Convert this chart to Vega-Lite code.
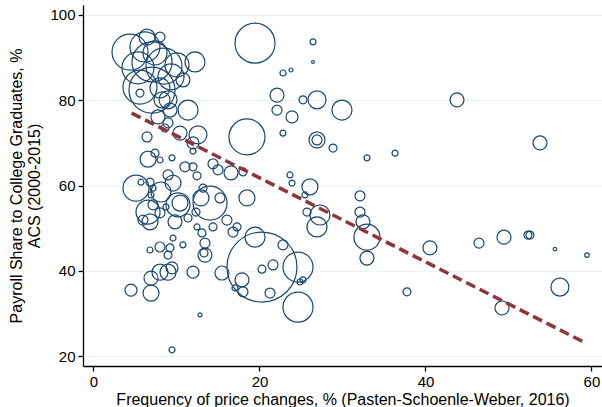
{
  "$schema": "https://vega.github.io/schema/vega-lite/v6.json",
  "width": 519,
  "height": 361,
  "autosize": {"type": "none"},
  "padding": {"left": 83, "top": 5, "right": 0, "bottom": 41},
  "background": "white",
  "config": {
    "view": {"stroke": null},
    "font": "Liberation Sans",
    "axis": {
      "labelFont": "Liberation Sans",
      "titleFont": "Liberation Sans",
      "labelFontSize": 15,
      "titleFontSize": 16,
      "titleFontWeight": "normal",
      "labelColor": "#000000",
      "titleColor": "#000000",
      "domainColor": "#000000",
      "tickColor": "#000000",
      "domainWidth": 1.3,
      "tickWidth": 1.3,
      "tickSize": 5
    }
  },
  "datasets": {
    "industries": [
      {"freq": 4.40, "share": 91.3, "weight": 324},
      {"freq": 6.20, "share": 92.5, "weight": 225},
      {"freq": 8.01, "share": 94.8, "weight": 25},
      {"freq": 6.45, "share": 94.8, "weight": 64},
      {"freq": 7.41, "share": 91.1, "weight": 144},
      {"freq": 12.23, "share": 89.0, "weight": 100},
      {"freq": 7.05, "share": 89.0, "weight": 400},
      {"freq": 8.49, "share": 88.0, "weight": 324},
      {"freq": 10.06, "share": 88.3, "weight": 144},
      {"freq": 9.34, "share": 85.5, "weight": 169},
      {"freq": 5.60, "share": 83.1, "weight": 289},
      {"freq": 8.01, "share": 82.9, "weight": 100},
      {"freq": 10.78, "share": 84.8, "weight": 49},
      {"freq": 11.39, "share": 77.7, "weight": 100},
      {"freq": 9.22, "share": 77.7, "weight": 49},
      {"freq": 8.25, "share": 80.1, "weight": 64},
      {"freq": 7.05, "share": 82.4, "weight": 529},
      {"freq": 5.36, "share": 87.6, "weight": 256},
      {"freq": 5.60, "share": 81.7, "weight": 16},
      {"freq": 8.98, "share": 80.1, "weight": 81},
      {"freq": 7.77, "share": 76.1, "weight": 49},
      {"freq": 8.98, "share": 74.7, "weight": 25},
      {"freq": 10.42, "share": 72.3, "weight": 49},
      {"freq": 12.59, "share": 71.9, "weight": 81},
      {"freq": 11.99, "share": 70.0, "weight": 36},
      {"freq": 11.99, "share": 68.1, "weight": 9},
      {"freq": 8.61, "share": 73.5, "weight": 16},
      {"freq": 6.45, "share": 71.4, "weight": 25},
      {"freq": 6.57, "share": 66.2, "weight": 64},
      {"freq": 7.41, "share": 67.6, "weight": 16},
      {"freq": 8.01, "share": 66.0, "weight": 9},
      {"freq": 9.46, "share": 66.5, "weight": 9},
      {"freq": 11.02, "share": 64.4, "weight": 25},
      {"freq": 11.99, "share": 64.4, "weight": 16},
      {"freq": 12.47, "share": 62.3, "weight": 16},
      {"freq": 14.40, "share": 65.1, "weight": 25},
      {"freq": 15.00, "share": 63.7, "weight": 25},
      {"freq": 16.57, "share": 63.0, "weight": 49},
      {"freq": 18.01, "share": 63.2, "weight": 16},
      {"freq": 18.49, "share": 71.4, "weight": 324},
      {"freq": 5.12, "share": 59.4, "weight": 169},
      {"freq": 5.72, "share": 60.8, "weight": 9},
      {"freq": 6.81, "share": 60.8, "weight": 16},
      {"freq": 7.17, "share": 59.4, "weight": 9},
      {"freq": 8.13, "share": 58.5, "weight": 100},
      {"freq": 8.98, "share": 62.5, "weight": 25},
      {"freq": 9.58, "share": 60.6, "weight": 64},
      {"freq": 6.93, "share": 57.8, "weight": 9},
      {"freq": 10.18, "share": 55.5, "weight": 144},
      {"freq": 6.57, "share": 53.8, "weight": 144},
      {"freq": 7.17, "share": 55.5, "weight": 25},
      {"freq": 8.01, "share": 53.6, "weight": 25},
      {"freq": 8.73, "share": 55.0, "weight": 9},
      {"freq": 9.82, "share": 51.5, "weight": 49},
      {"freq": 6.81, "share": 51.5, "weight": 64},
      {"freq": 5.96, "share": 51.9, "weight": 25},
      {"freq": 11.39, "share": 52.4, "weight": 16},
      {"freq": 13.19, "share": 59.4, "weight": 16},
      {"freq": 12.95, "share": 57.1, "weight": 64},
      {"freq": 12.35, "share": 53.8, "weight": 16},
      {"freq": 14.04, "share": 55.9, "weight": 289},
      {"freq": 15.24, "share": 57.1, "weight": 25},
      {"freq": 18.49, "share": 57.1, "weight": 64},
      {"freq": 10.42, "share": 55.9, "weight": 64},
      {"freq": 12.47, "share": 50.3, "weight": 9},
      {"freq": 13.07, "share": 48.9, "weight": 16},
      {"freq": 13.43, "share": 46.5, "weight": 25},
      {"freq": 13.43, "share": 43.7, "weight": 49},
      {"freq": 13.31, "share": 44.2, "weight": 16},
      {"freq": 14.40, "share": 50.3, "weight": 16},
      {"freq": 16.08, "share": 51.9, "weight": 25},
      {"freq": 17.29, "share": 50.3, "weight": 16},
      {"freq": 16.81, "share": 49.1, "weight": 25},
      {"freq": 9.58, "share": 47.7, "weight": 9},
      {"freq": 10.78, "share": 46.1, "weight": 9},
      {"freq": 8.01, "share": 45.6, "weight": 25},
      {"freq": 9.22, "share": 45.4, "weight": 16},
      {"freq": 6.81, "share": 44.9, "weight": 9},
      {"freq": 8.98, "share": 43.7, "weight": 16},
      {"freq": 19.46, "share": 47.9, "weight": 100},
      {"freq": 8.01, "share": 39.7, "weight": 64},
      {"freq": 8.98, "share": 39.7, "weight": 64},
      {"freq": 9.46, "share": 40.7, "weight": 36},
      {"freq": 6.93, "share": 38.3, "weight": 49},
      {"freq": 4.52, "share": 35.5, "weight": 36},
      {"freq": 6.93, "share": 34.8, "weight": 64},
      {"freq": 11.99, "share": 39.7, "weight": 36},
      {"freq": 12.83, "share": 29.7, "weight": 4},
      {"freq": 9.46, "share": 21.5, "weight": 9},
      {"freq": 22.83, "share": 72.3, "weight": 9},
      {"freq": 26.93, "share": 70.7, "weight": 64},
      {"freq": 26.93, "share": 70.7, "weight": 25},
      {"freq": 28.86, "share": 68.8, "weight": 16},
      {"freq": 23.67, "share": 62.5, "weight": 9},
      {"freq": 23.92, "share": 60.6, "weight": 9},
      {"freq": 26.08, "share": 59.7, "weight": 64},
      {"freq": 25.48, "share": 57.8, "weight": 9},
      {"freq": 25.72, "share": 53.8, "weight": 16},
      {"freq": 27.29, "share": 53.1, "weight": 100},
      {"freq": 26.93, "share": 50.3, "weight": 100},
      {"freq": 20.30, "share": 40.9, "weight": 1225},
      {"freq": 22.83, "share": 46.1, "weight": 25},
      {"freq": 24.64, "share": 40.9, "weight": 225},
      {"freq": 21.63, "share": 41.4, "weight": 25},
      {"freq": 20.30, "share": 40.4, "weight": 16},
      {"freq": 17.89, "share": 37.9, "weight": 49},
      {"freq": 17.05, "share": 36.0, "weight": 9},
      {"freq": 18.01, "share": 35.1, "weight": 25},
      {"freq": 15.48, "share": 39.5, "weight": 49},
      {"freq": 21.27, "share": 34.8, "weight": 25},
      {"freq": 25.24, "share": 37.9, "weight": 9},
      {"freq": 24.88, "share": 37.4, "weight": 9},
      {"freq": 24.64, "share": 31.5, "weight": 225},
      {"freq": 26.45, "share": 93.7, "weight": 9},
      {"freq": 26.45, "share": 89.0, "weight": 2},
      {"freq": 22.83, "share": 86.4, "weight": 9},
      {"freq": 23.80, "share": 87.1, "weight": 4},
      {"freq": 22.11, "share": 81.2, "weight": 49},
      {"freq": 22.11, "share": 77.7, "weight": 25},
      {"freq": 23.92, "share": 76.1, "weight": 36},
      {"freq": 25.24, "share": 80.1, "weight": 16},
      {"freq": 26.93, "share": 80.1, "weight": 81},
      {"freq": 29.94, "share": 77.7, "weight": 100},
      {"freq": 43.80, "share": 80.1, "weight": 49},
      {"freq": 19.46, "share": 93.4, "weight": 400},
      {"freq": 32.95, "share": 66.5, "weight": 9},
      {"freq": 36.33, "share": 67.6, "weight": 9},
      {"freq": 32.11, "share": 57.6, "weight": 25},
      {"freq": 32.11, "share": 53.8, "weight": 25},
      {"freq": 32.47, "share": 51.5, "weight": 49},
      {"freq": 32.95, "share": 47.9, "weight": 169},
      {"freq": 32.95, "share": 43.0, "weight": 49},
      {"freq": 40.54, "share": 45.4, "weight": 49},
      {"freq": 37.77, "share": 35.1, "weight": 16},
      {"freq": 53.80, "share": 70.0, "weight": 49},
      {"freq": 46.45, "share": 46.5, "weight": 25},
      {"freq": 49.46, "share": 47.9, "weight": 49},
      {"freq": 52.35, "share": 48.4, "weight": 16},
      {"freq": 52.59, "share": 48.4, "weight": 16},
      {"freq": 55.60, "share": 45.1, "weight": 3},
      {"freq": 59.46, "share": 43.7, "weight": 5},
      {"freq": 56.20, "share": 36.2, "weight": 81},
      {"freq": 49.22, "share": 31.3, "weight": 49}
    ],
    "fit": [
      {"freq": 4.6, "share": 77.0},
      {"freq": 59.4, "share": 23.0}
    ]
  },
  "layer": [
    {
      "data": {"name": "industries"},
      "mark": {"type": "point", "shape": "circle", "filled": false, "color": "#1A476F", "strokeWidth": 1.2, "opacity": 1},
      "encoding": {
        "x": {
          "field": "freq", "type": "quantitative",
          "scale": {"domain": [-1.265, 61.27], "nice": false, "zero": false},
          "axis": {
            "title": "Frequency of price changes, % (Pasten-Schoenle-Weber, 2016)",
            "values": [0, 20, 40, 60], "grid": false, "labelPadding": 3, "titlePadding": 2
          }
        },
        "y": {
          "field": "share", "type": "quantitative",
          "scale": {"domain": [17.70, 102.34], "nice": false, "zero": false},
          "axis": {
            "title": ["Payroll Share to College Graduates, %", "ACS (2000-2015)"],
            "values": [20, 40, 60, 80, 100], "grid": true, "gridColor": "#EAF2F3", "gridWidth": 1,
            "labelPadding": 3, "titlePadding": 7, "titleLineHeight": 18
          }
        },
        "size": {
          "field": "weight", "type": "quantitative",
          "scale": {"type": "linear", "domain": [0, 1225], "range": [0, 4900], "zero": true},
          "legend": null
        }
      }
    },
    {
      "data": {"name": "fit"},
      "mark": {"type": "line", "color": "#90353B", "strokeWidth": 3.5, "strokeDash": [10, 5]},
      "encoding": {
        "x": {"field": "freq", "type": "quantitative"},
        "y": {"field": "share", "type": "quantitative"}
      }
    }
  ]
}
